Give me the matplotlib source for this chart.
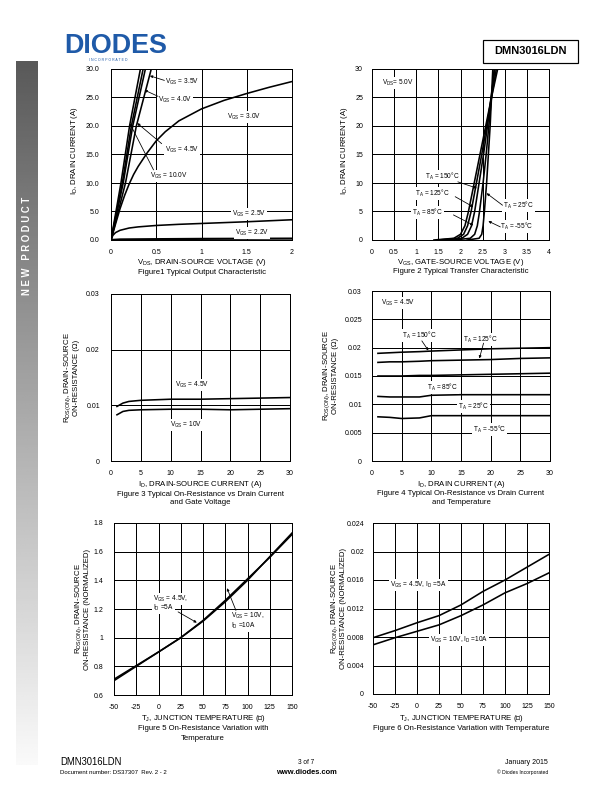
import numpy as np
import matplotlib
matplotlib.use('Agg')
import matplotlib.pyplot as plt
from matplotlib.patches import Rectangle

plt.rcParams['font.family'] = ['Liberation Sans', 'DejaVu Sans']
plt.rcParams['mathtext.default'] = 'regular'
plt.rcParams['mathtext.fallback'] = 'stixsans'

W, H = 612, 792

# ---- Figure 1: output characteristic
vds_30 = [0, 0.05, 0.1, 0.15, 0.2, 0.25, 0.3, 0.4, 0.5, 0.6, 0.75, 1.0, 1.25, 1.5, 1.75, 2.0]
id_30 = [0, 2.8, 5.5, 7.8, 9.8, 11.5, 12.9, 15.3, 17.4, 19.0, 20.9, 23.0, 24.5, 25.7, 26.8, 27.8]
vds_25 = [0, 0.02, 0.05, 0.1, 0.2, 0.3, 0.5, 0.75, 1.0, 1.5, 2.0]
id_25 = [0, 0.8, 1.3, 1.7, 2.1, 2.3, 2.55, 2.75, 2.9, 3.2, 3.55]
vds_22 = [0, 0.1, 0.5, 1.0, 2.0]
id_22 = [0, 0.1, 0.15, 0.2, 0.25]
steep_id = [0, 10, 20, 30, 32]
vds_100 = [0, 0.11, 0.205, 0.325, 0.35]
vds_45 = [0, 0.125, 0.225, 0.355, 0.38]
vds_40 = [0, 0.135, 0.24, 0.38, 0.405]
vds_35 = [0, 0.16, 0.28, 0.445, 0.475]

# ---- Figure 2: transfer characteristic (VGS at given ID)
tr_id = [0, 0.3, 1, 2.5, 5, 10, 15, 20, 25, 30, 33]
vgs_150 = [1.40, 1.85, 2.00, 2.10, 2.18, 2.31, 2.44, 2.57, 2.70, 2.84, 2.92]
vgs_125 = [1.50, 1.93, 2.07, 2.16, 2.24, 2.36, 2.48, 2.59, 2.70, 2.81, 2.88]
vgs_85 = [1.62, 2.03, 2.16, 2.25, 2.32, 2.42, 2.52, 2.61, 2.69, 2.78, 2.84]
vgs_25 = [1.85, 2.22, 2.32, 2.38, 2.43, 2.51, 2.58, 2.64, 2.70, 2.76, 2.80]
vgs_m55 = [2.15, 2.42, 2.48, 2.51, 2.54, 2.59, 2.63, 2.67, 2.70, 2.73, 2.76]

# ---- Figure 3: Rds(on) vs ID and VGS
id3 = [1, 1.5, 2, 3, 5, 10, 15, 20, 25, 30]
r3_45 = [0.0098, 0.0101, 0.0104, 0.0107, 0.0109, 0.0111, 0.0111, 0.0112, 0.0113, 0.0114]
r3_10 = [0.0083, 0.0086, 0.0089, 0.0091, 0.0092, 0.0093, 0.0093, 0.0092, 0.0093, 0.0094]

# ---- Figure 4: Rds(on) vs ID and temperature
id4 = [1, 3, 5, 8, 10, 15, 20, 25, 30]
r4_150 = [0.0190, 0.0191, 0.0192, 0.0193, 0.0194, 0.0196, 0.0198, 0.0199, 0.0200]
r4_125 = [0.0174, 0.0175, 0.0175, 0.0176, 0.0177, 0.0178, 0.0179, 0.0181, 0.0182]
r4_85 = [0.0150, 0.0150, 0.0150, 0.0151, 0.0151, 0.0152, 0.0153, 0.0154, 0.0155]
r4_25 = [0.0114, 0.0113, 0.0113, 0.0113, 0.0116, 0.0117, 0.0117, 0.0117, 0.0117]
r4_m55 = [0.0078, 0.0077, 0.0075, 0.0076, 0.0080, 0.0080, 0.0080, 0.0080, 0.0080]

# ---- Figure 5 / 6: vs junction temperature
tj = [-50, -25, 0, 25, 50, 75, 100, 125, 150]
norm_45 = [0.70, 0.80, 0.90, 1.00, 1.12, 1.26, 1.41, 1.56, 1.72]
norm_10 = [0.71, 0.805, 0.90, 1.00, 1.115, 1.25, 1.40, 1.565, 1.73]
r6_45 = [0.0079, 0.0089, 0.0100, 0.0110, 0.0125, 0.0144, 0.0160, 0.0178, 0.0196]
r6_10 = [0.0069, 0.0079, 0.0088, 0.0097, 0.0110, 0.0125, 0.0142, 0.0155, 0.0170]

fig = plt.figure(figsize=(W / 72, H / 72), dpi=72)

FS = 7.7  # axis labels / captions


def px_axes(l, t, r, b):
    return fig.add_axes([l / W, 1 - b / H, (r - l) / W, (b - t) / H])


def ftext(x, y, s, **kw):
    fig.text(x / W, 1 - y / H, s, **kw)


def setup(ax, xlim, ylim, xticks, xlabels, yticks, ylabels, xpad=9, ypad=10):
    ax.set_xlim(xlim)
    ax.set_ylim(ylim)
    ax.set_xticks(xticks)
    ax.set_xticklabels(xlabels)
    ax.set_yticks(yticks)
    ax.set_yticklabels(ylabels)
    ax.grid(True, color='black', lw=1.0)
    ax.set_axisbelow(True)
    ax.tick_params(axis='x', length=0, labelsize=7, pad=xpad)
    ax.tick_params(axis='y', length=0, labelsize=7, pad=ypad)
    for s in ax.spines.values():
        s.set_linewidth(1.0)


def label(ax, x, y, s, ha='left'):
    ax.text(x, y, s, fontsize=6.5, ha=ha, va='center',
            bbox=dict(facecolor='white', edgecolor='none', pad=1.0), zorder=4)


def arrow(ax, tail, tip):
    ax.annotate('', xy=tip, xytext=tail, zorder=5,
                arrowprops=dict(arrowstyle='-|>', color='black', lw=0.8,
                                mutation_scale=5, shrinkA=0, shrinkB=0))


def ylab(x, y, s):
    ftext(x, y, s, fontsize=FS, rotation=90, ha='center', va='center', linespacing=1.0)


def xlab(x, y, s):
    ftext(x, y, s, fontsize=FS, ha='center', va='center')


lw = 1.6

# Figure 1
ax1 = px_axes(111, 69, 292, 240)
ax1.plot(vds_30, id_30, color='black', lw=lw)
ax1.plot(vds_25, id_25, color='black', lw=lw)
ax1.plot(vds_22, id_22, color='black', lw=lw + 0.6)
for v in (vds_100, vds_45, vds_40, vds_35):
    ax1.plot(v, steep_id, color='black', lw=lw)
setup(ax1, (0, 2), (0, 30), [0, 0.5, 1, 1.5, 2], ['0', '0.5', '1', '1.5', '2'],
      np.arange(0, 31, 5), ['%.1f' % v for v in np.arange(0, 31, 5)], xpad=9, ypad=12)
label(ax1, 0.6, 27.8, 'V$_{GS}$ = 3.5V')
arrow(ax1, (0.59, 28.0), (0.43, 28.8))
label(ax1, 0.52, 24.6, 'V$_{GS}$ = 4.0V')
arrow(ax1, (0.52, 25.2), (0.37, 26.3))
label(ax1, 0.6, 15.8, 'V$_{GS}$ = 4.5V')
arrow(ax1, (0.56, 16.9), (0.29, 20.5))
label(ax1, 0.43, 11.2, 'V$_{GS}$ = 10.0V')
arrow(ax1, (0.47, 12.3), (0.21, 20.4))
label(ax1, 1.28, 21.6, 'V$_{GS}$ = 3.0V')
label(ax1, 1.34, 4.5, 'V$_{GS}$ = 2.5V')
label(ax1, 1.37, 1.3, 'V$_{GS}$ = 2.2V')
ylab(75, 151, 'I$_D$, DRAIN CURRENT (A)')
xlab(201.5, 262, 'V$_{DS}$, DRAIN-SOURCE VOLTAGE (V)')
xlab(201.5, 272, 'Figure1 Typical Output Characteristic')

# Figure 2
ax2 = px_axes(372, 69, 549, 240)
for v in (vgs_150, vgs_125, vgs_85, vgs_25, vgs_m55):
    ax2.plot(v, tr_id, color='black', lw=lw)
setup(ax2, (0, 4), (0, 30), np.arange(0, 4.01, 0.5),
      ['0', '0.5', '1', '1.5', '2', '2.5', '3', '3.5', '4'],
      np.arange(0, 31, 5), [str(v) for v in range(0, 31, 5)], xpad=9, ypad=9)
label(ax2, 0.23, 27.5, 'V$_{DS}$= 5.0V')
label(ax2, 1.2, 11.2, 'T$_A$ = 150°C')
arrow(ax2, (1.94, 10.2), (2.37, 9.1))
label(ax2, 0.97, 8.2, 'T$_A$ = 125°C')
arrow(ax2, (1.88, 7.6), (2.29, 5.8))
label(ax2, 0.9, 4.8, 'T$_A$ = 85°C')
arrow(ax2, (1.84, 4.4), (2.29, 2.6))
label(ax2, 2.97, 6.0, 'T$_A$ = 25°C')
arrow(ax2, (2.95, 6.1), (2.59, 8.2))
label(ax2, 2.9, 2.3, 'T$_A$ = -55°C')
arrow(ax2, (2.9, 2.3), (2.63, 3.3))
ylab(345, 151, 'I$_D$, DRAIN CURRENT (A)')
xlab(460.5, 262, 'V$_{GS}$, GATE-SOURCE VOLTAGE (V)')
xlab(460.5, 271.5, 'Figure 2 Typical Transfer Characteristic')

# Figure 3
ax3 = px_axes(111, 294, 290, 461)
ax3.plot(id3, r3_45, color='black', lw=lw)
ax3.plot(id3, r3_10, color='black', lw=lw)
setup(ax3, (0, 30), (0, 0.03), np.arange(0, 31, 5), [str(v) for v in range(0, 31, 5)],
      [0, 0.01, 0.02, 0.03], ['0', '0.01', '0.02', '0.03'], xpad=9, ypad=11)
label(ax3, 10.7, 0.01365, 'V$_{GS}$ = 4.5V')
label(ax3, 9.9, 0.0065, 'V$_{GS}$ = 10V')
ylab(71, 377.5, 'R$_{DS(ON)}$, DRAIN-SOURCE\nON-RESISTANCE (Ω)')
xlab(200.5, 485, 'I$_D$, DRAIN-SOURCE CURRENT (A)')
xlab(200.5, 494, 'Figure 3 Typical On-Resistance vs Drain Current')
xlab(200.5, 503, 'and Gate Voltage')

# Figure 4
ax4 = px_axes(372, 291, 550, 461)
for r in (r4_150, r4_125, r4_85, r4_25, r4_m55):
    ax4.plot(id4, r, color='black', lw=lw)
setup(ax4, (0, 30), (0, 0.03), np.arange(0, 31, 5), [str(v) for v in range(0, 31, 5)],
      np.arange(0, 0.0301, 0.005), ['0', '0.005', '0.01', '0.015', '0.02', '0.025', '0.03'],
      xpad=9, ypad=10)
label(ax4, 1.5, 0.0279, 'V$_{GS}$ = 4.5V')
label(ax4, 5.1, 0.0222, 'T$_A$ = 150°C')
arrow(ax4, (8.4, 0.0212), (9.5, 0.0195))
label(ax4, 15.4, 0.0215, 'T$_A$ = 125°C')
arrow(ax4, (18.8, 0.0208), (18.1, 0.0181))
label(ax4, 9.2, 0.0129, 'T$_A$ = 85°C')
label(ax4, 14.5, 0.0096, 'T$_A$ = 25°C')
label(ax4, 17.0, 0.0056, 'T$_A$ = -55°C')
ylab(330.5, 376, 'R$_{DS(ON)}$, DRAIN-SOURCE\nON-RESISTANCE (Ω)')
xlab(461, 484, 'I$_D$, DRAIN CURRENT (A)')
xlab(461, 493.3, 'Figure 4 Typical On-Resistance vs Drain Current')
xlab(461, 502.3, 'and Temperature')

# Figure 5
ax5 = px_axes(114, 523, 292, 695)
ax5.plot(tj, norm_45, color='black', lw=lw)
ax5.plot(tj, norm_10, color='black', lw=lw)
setup(ax5, (-50, 150), (0.6, 1.8), np.arange(-50, 151, 25), [str(v) for v in range(-50, 151, 25)],
      np.arange(0.6, 1.81, 0.2), ['0.6', '0.8', '1', '1.2', '1.4', '1.6', '1.8'], xpad=9, ypad=11)
label(ax5, -6, 1.27, 'V$_{GS}$ = 4.5V,')
label(ax5, -6, 1.205, 'I$_D$ =5A')
arrow(ax5, (22, 1.18), (43, 1.105))
label(ax5, 82, 1.15, 'V$_{GS}$ = 10V,')
label(ax5, 82, 1.085, 'I$_D$ =10A')
arrow(ax5, (87, 1.19), (77, 1.345))
ylab(82.5, 609, 'R$_{DS(ON)}$, DRAIN-SOURCE\nON-RESISTANCE (NORMALIZED)')
xlab(203, 719, 'T$_J$, JUNCTION TEMPERATURE (℃)')
xlab(203, 729, 'Figure 5 On-Resistance Variation with')
xlab(203, 738.5, 'Temperature')

# Figure 6
ax6 = px_axes(373, 523, 549, 694)
ax6.plot(tj, r6_45, color='black', lw=lw)
ax6.plot(tj, r6_10, color='black', lw=lw)
setup(ax6, (-50, 150), (0, 0.024), np.arange(-50, 151, 25), [str(v) for v in range(-50, 151, 25)],
      np.arange(0, 0.0241, 0.004), ['0', '0.004', '0.008', '0.012', '0.016', '0.02', '0.024'],
      xpad=9, ypad=9)
label(ax6, -30.4, 0.01534, 'V$_{GS}$ = 4.5V, I$_D$ =5A')
label(ax6, 15, 0.0076, 'V$_{GS}$ = 10V, I$_D$ =10A')
ylab(338.5, 608.5, 'R$_{DS(ON)}$, DRAIN-SOURCE\nON-RESISTANCE (NORMALIZED)')
xlab(461, 718.5, 'T$_J$, JUNCTION TEMPERATURE (℃)')
xlab(461, 728, 'Figure 6 On-Resistance Variation with Temperature')

# header
ftext(64, 46, 'DIODES', fontsize=27, weight='bold', color='#1f5aa8', ha='left', va='center')
ftext(108, 60, 'I N C O R P O R A T E D', fontsize=3.5, color='#1f5aa8', ha='center', va='center')
fig.patches.append(Rectangle((483 / W, 1 - 63 / H), 95 / W, 23 / H, transform=fig.transFigure,
                             facecolor='white', edgecolor='black', lw=1.2))
ftext(530.5, 51.5, 'DMN3016LDN', fontsize=11, weight='bold', ha='center', va='center')

# side bar
sb = fig.add_axes([16 / W, 1 - 765 / H, 21 / W, 704 / H])
grad = np.linspace(0.35, 0.98, 256).reshape(-1, 1)
sb.imshow(grad, aspect='auto', cmap='gray', vmin=0, vmax=1, extent=(0, 1, 0, 1), origin='upper')
sb.axis('off')
ftext(27, 246, 'N E W   P R O D U C T', fontsize=9.5, weight='bold', color='white',
      rotation=90, ha='center', va='center')

# footer
ftext(60, 762, 'DMN3016LDN', fontsize=9.5, ha='left', va='center')
ftext(60, 772, 'Document number: DS37307  Rev. 2 - 2', fontsize=6, ha='left', va='center')
ftext(306, 762, '3 of 7', fontsize=6.5, ha='center', va='center')
ftext(306, 772, 'www.diodes.com', fontsize=7.5, weight='bold', ha='center', va='center')
ftext(548, 762, 'January 2015', fontsize=7, ha='right', va='center')
ftext(548, 772, '© Diodes Incorporated', fontsize=5, ha='right', va='center')

fig.savefig('out.png', dpi=72)
